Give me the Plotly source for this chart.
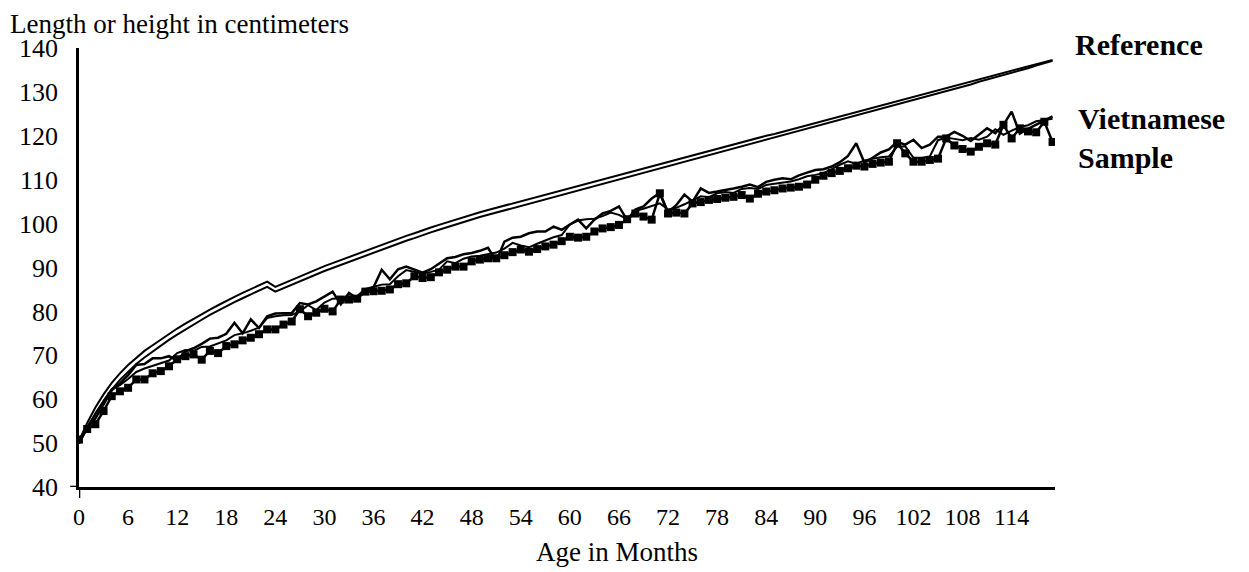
import plotly.graph_objects as go

# ---------------- data ----------------
months = list(range(0, 120))

ref_upper = [
    50.5, 54.6, 58.1, 61.1, 63.7, 65.9, 67.8, 69.5, 71.0, 72.3, 73.6, 74.9,
    76.1, 77.2, 78.3, 79.4, 80.4, 81.4, 82.4, 83.3, 84.2, 85.1, 86.0, 86.8,
    85.6, 86.4, 87.2, 88.0, 88.8, 89.5, 90.3, 91.0, 91.7, 92.4, 93.1, 93.8,
    94.5, 95.2, 95.9, 96.5, 97.2, 97.8, 98.5, 99.1, 99.7, 100.3, 100.9, 101.5,
    102.1, 102.6, 103.1, 103.6, 104.1, 104.6, 105.1, 105.6, 106.1, 106.6, 107.1, 107.6,
    108.1, 108.6, 109.1, 109.6, 110.1, 110.6, 111.1, 111.6, 112.1, 112.6, 113.1, 113.6,
    114.1, 114.6, 115.1, 115.6, 116.1, 116.6, 117.0, 117.5, 118.0, 118.5, 119.0, 119.5,
    120.0, 120.4, 120.9, 121.4, 121.9, 122.4, 122.9, 123.3, 123.8, 124.3, 124.8, 125.3,
    125.8, 126.3, 126.8, 127.3, 127.8, 128.3, 128.8, 129.3, 129.8, 130.3, 130.8, 131.3,
    131.8, 132.3, 132.8, 133.3, 133.8, 134.3, 134.8, 135.3, 135.8, 136.3, 136.8, 137.3,
]

ref_lower = [
    49.9, 53.5, 56.8, 59.6, 62.2, 64.4, 66.3, 68.0, 69.5, 70.9, 72.2, 73.5,
    74.7, 75.9, 77.0, 78.1, 79.2, 80.2, 81.2, 82.1, 83.0, 83.9, 84.8, 85.6,
    84.5, 85.3, 86.1, 86.9, 87.7, 88.4, 89.2, 89.9, 90.6, 91.3, 92.0, 92.7,
    93.4, 94.1, 94.8, 95.4, 96.1, 96.7, 97.4, 98.0, 98.6, 99.2, 99.8, 100.4,
    101.0, 101.5, 102.0, 102.5, 103.0, 103.5, 104.0, 104.5, 105.0, 105.5, 106.0, 106.5,
    107.0, 107.5, 108.0, 108.5, 109.0, 109.5, 110.0, 110.5, 111.0, 111.6, 112.1, 112.6,
    113.1, 113.6, 114.1, 114.6, 115.1, 115.6, 116.1, 116.6, 117.1, 117.6, 118.1, 118.6,
    119.1, 119.6, 120.1, 120.6, 121.1, 121.6, 122.1, 122.6, 123.1, 123.6, 124.1, 124.6,
    125.1, 125.6, 126.1, 126.6, 127.1, 127.6, 128.1, 128.6, 129.1, 129.7, 130.2, 130.7,
    131.2, 131.7, 132.3, 132.8, 133.3, 133.8, 134.4, 134.9, 135.4, 136.0, 136.5, 137.1,
]

sample_a = [
    50.0, 53.5, 55.6, 58.8, 62.0, 63.6, 65.5, 67.8, 68.0, 69.3, 69.3, 69.8,
    68.8, 70.9, 71.6, 72.6, 73.8, 74.0, 74.9, 77.4, 75.0, 78.2, 76.2, 78.9,
    79.5, 79.6, 79.6, 81.9, 81.6, 82.3, 83.5, 84.5, 81.6, 84.2, 83.0, 84.7,
    85.5, 89.5, 87.3, 89.6, 90.2, 89.5, 88.8, 89.6, 90.8, 92.1, 92.4, 93.0,
    93.3, 93.8, 94.5, 91.4, 95.9, 96.8, 97.0, 97.8, 98.2, 98.2, 99.3, 98.6,
    99.8, 100.9, 98.9, 100.9, 102.3, 102.9, 103.9, 100.8, 103.2, 103.9, 105.7, 107.0,
    102.6, 104.2, 106.6, 105.0, 108.0, 107.0, 107.3, 107.6, 108.0, 108.4, 108.9, 108.3,
    109.5, 110.0, 110.3, 110.1, 111.0, 111.6, 112.2, 112.4, 113.0, 114.0, 115.4, 118.3,
    113.9, 115.0, 116.2, 116.9, 118.6, 118.0, 119.1, 117.2, 118.0, 119.8, 119.8, 120.9,
    120.0, 118.8, 120.2, 121.7, 120.6, 122.5, 125.5, 120.5, 121.6, 122.5, 123.4, 124.4,
]

sample_b = [
    50.2, 53.8, 56.5, 59.6, 62.3, 63.2, 64.6, 66.2, 67.0, 67.6, 68.1, 68.8,
    70.5, 71.2, 71.0, 71.9, 72.0, 72.7, 73.4, 74.6, 75.0, 75.6, 76.3, 78.5,
    78.9, 79.1, 79.2, 80.0, 81.4, 80.3, 82.0, 82.9, 83.0, 83.4, 83.5, 85.1,
    85.6, 86.1, 86.2, 88.0, 89.4, 89.0, 88.6, 89.0, 89.5, 91.4, 91.0, 92.0,
    92.5, 92.7, 93.0, 93.4, 94.3, 95.6, 95.0, 94.6, 95.4, 96.1, 96.9, 97.4,
    99.8, 100.7, 101.0, 101.1, 101.7, 102.5, 102.0, 101.0, 102.9, 103.4, 104.0, 104.6,
    103.2, 103.6, 104.4, 105.3, 106.2, 106.0, 106.9, 107.2, 107.0, 107.9, 108.1, 107.9,
    108.8, 109.1, 109.3, 109.6, 110.1, 110.8, 111.1, 111.5, 112.4, 113.4, 114.2, 113.6,
    114.4, 114.8, 115.1, 115.3, 117.5, 117.6, 115.0, 115.0, 115.3, 119.0, 119.6, 119.3,
    119.0, 119.5, 119.1, 119.8, 121.5, 120.2, 121.2, 122.0, 122.4, 123.3, 123.6, 123.9,
]

sample_c = [
    50.8, 53.2, 54.3, 57.3, 60.7, 61.8, 62.6, 64.5, 64.5, 65.9, 66.4, 67.5,
    69.1, 69.8, 70.2, 69.0, 71.0, 70.5, 72.1, 72.5, 73.4, 74.0, 74.8, 75.9,
    75.9, 77.0, 77.7, 80.5, 78.9, 79.7, 80.6, 80.0, 82.7, 82.7, 82.9, 84.5,
    84.6, 84.7, 85.0, 86.2, 86.4, 88.0, 87.6, 87.8, 88.9, 89.5, 90.2, 90.2,
    91.4, 91.8, 92.1, 92.1, 92.8, 93.5, 94.1, 93.6, 94.2, 94.8, 95.2, 96.0,
    97.0, 96.8, 97.0, 98.2, 98.9, 99.2, 99.7, 101.0, 102.3, 101.6, 100.9, 106.9,
    102.3, 102.5, 102.3, 104.6, 104.9, 105.4, 105.6, 105.9, 106.1, 106.5, 105.7, 106.8,
    107.3, 107.6, 108.0, 108.2, 108.4, 108.9, 110.0, 110.9, 111.5, 112.0, 112.6, 113.2,
    113.0, 113.6, 113.9, 114.1, 118.3, 116.0, 114.1, 114.1, 114.5, 114.8, 119.4, 117.8,
    117.0, 116.4, 117.5, 118.3, 118.0, 122.5, 119.4, 121.7, 121.0, 120.8, 123.2, 118.6,
]

x_tick_vals = list(range(0, 115, 6))
x_tick_text = [str(v) for v in x_tick_vals]
y_tick_vals = list(range(40, 141, 10))

# ---------------- figure ----------------
FONT = "Liberation Serif"
fig = go.Figure()

ref_style = dict(color="black", width=2.0)
line_style = dict(color="black", width=2.5)

fig.add_trace(go.Scatter(x=months, y=ref_upper, mode="lines", line=ref_style,
                         name="Reference (upper)"))
fig.add_trace(go.Scatter(x=months, y=ref_lower, mode="lines", line=ref_style,
                         name="Reference (lower)"))
fig.add_trace(go.Scatter(x=months, y=sample_a, mode="lines", line=line_style,
                         name="Sample A"))
fig.add_trace(go.Scatter(x=months, y=sample_b, mode="lines",
                         line=dict(color="black", width=2.0), name="Sample B"))
fig.add_trace(go.Scatter(x=months, y=sample_c, mode="lines+markers",
                         line=dict(color="black", width=2.5),
                         marker=dict(symbol="square", size=8, color="black"),
                         name="Sample C"))

# the page body has an 8px margin, so the figure is made 8px smaller on each side
fig.update_layout(
    width=1241, height=564,
    margin=dict(l=71, r=194, t=40, b=85),
    paper_bgcolor="white", plot_bgcolor="white",
    showlegend=False,
    font=dict(family=FONT, color="black"),
    xaxis=dict(
        range=[0, 119.3], tickmode="array", tickvals=x_tick_vals, ticktext=x_tick_text,
        ticks="", showgrid=False, zeroline=False,
        showline=True, linecolor="black", linewidth=2.6,
        tickfont=dict(family=FONT, size=24, color="black"),
        ticklabelstandoff=6,
    ),
    yaxis=dict(
        range=[40, 140], tickmode="array", tickvals=y_tick_vals,
        ticks="", showgrid=False, zeroline=False,
        showline=True, linecolor="black", linewidth=2.6,
        tickfont=dict(family=FONT, size=26, color="black"),
        ticklabelstandoff=13,
    ),
)

# small tick marks at the origin
fig.add_shape(type="line", xref="x", yref="paper", x0=0, x1=0, y0=0, y1=-0.025,
              line=dict(color="black", width=2.6))
fig.add_shape(type="line", xref="paper", yref="y", x0=-0.009, x1=0, y0=40, y1=40,
              line=dict(color="black", width=2.6))

# axis titles and labels
fig.add_annotation(text="Length or height in centimeters", xref="paper", yref="paper",
                   x=-0.0727, y=1.055, xanchor="left", yanchor="middle", showarrow=False,
                   font=dict(family=FONT, size=27, color="black"))
fig.add_annotation(text="Age in Months", xref="paper", yref="paper",
                   x=0.551, y=-0.148, xanchor="center", yanchor="middle", showarrow=False,
                   font=dict(family=FONT, size=27, color="black"))
fig.add_annotation(text="<b>Reference</b>", xref="paper", yref="paper",
                   x=1.0184, y=1.009, xanchor="left", yanchor="middle", showarrow=False,
                   font=dict(family=FONT, size=30, color="black"))
fig.add_annotation(text="<b>Vietnamese<br>Sample</b>", xref="paper", yref="paper",
                   x=1.0215, y=0.795, xanchor="left", yanchor="middle", align="left",
                   showarrow=False, font=dict(family=FONT, size=30, color="black"))

fig.write_html("out.html")
